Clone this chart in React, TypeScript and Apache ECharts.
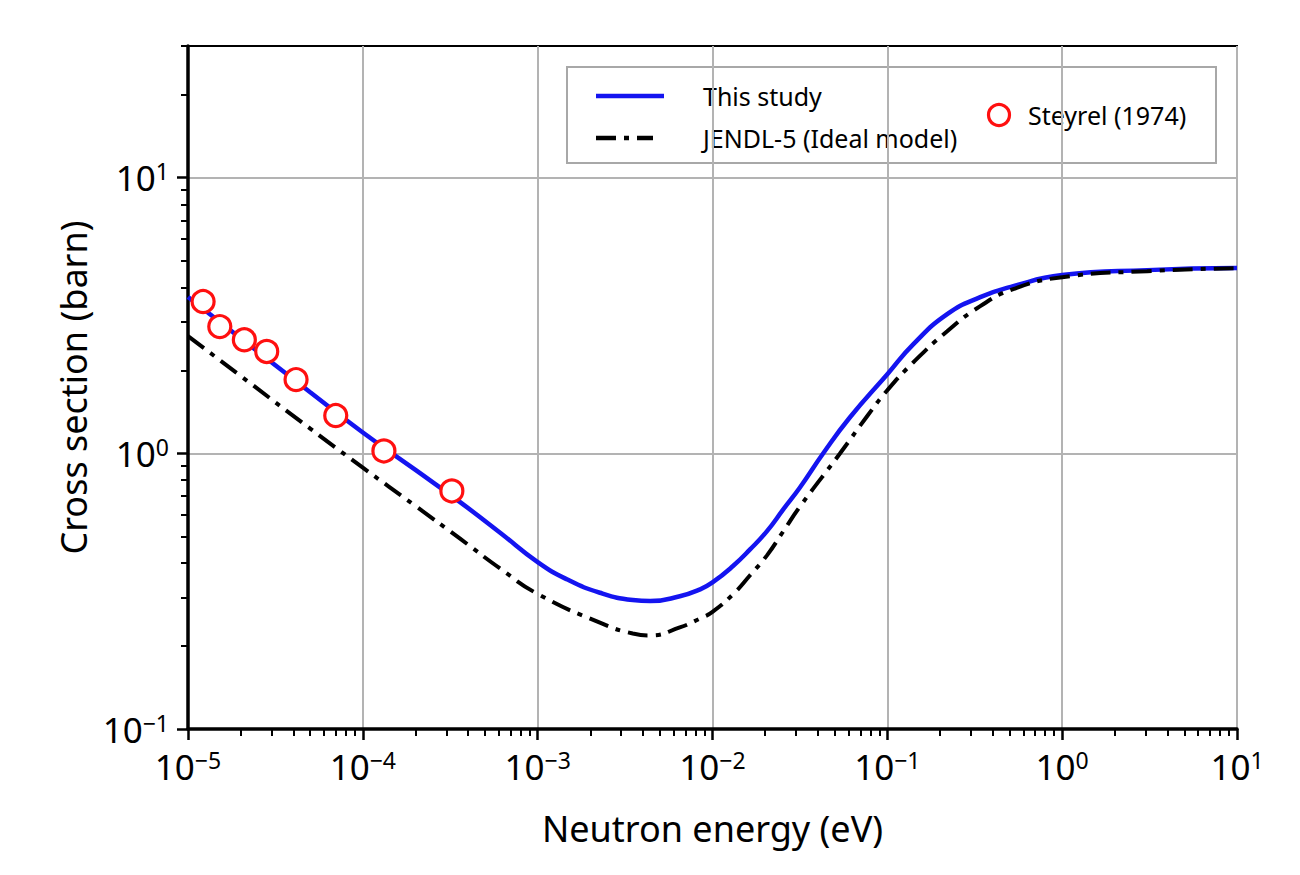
import React, { useEffect, useRef } from 'react';
import * as echarts from 'echarts';

const FONT = '"Noto Sans", "Open Sans", sans-serif';

// Axis ticks and labels
const xMajorTicks = [1e-5, 1e-4, 1e-3, 1e-2, 1e-1, 1, 10];
const xTickExponents = ['−5', '−4', '−3', '−2', '−1', '0', '1'];
const yMajorTicks = [0.1, 1, 10];
const yTickExponents = ['−1', '0', '1'];

// This study (blue solid)
const studyEnergy = [1e-5, 2e-5, 5e-5, 1e-4, 2e-4, 3.6e-4, 6.1e-4, 1e-3, 1.47e-3, 2.27e-3, 3.5e-3, 4.4e-3, 6.5e-3, 8.5e-3, 1e-2, 1.31e-2, 1.64e-2, 2.05e-2, 2.54e-2, 3.17e-2, 4.3e-2, 6.1e-2, 0.1, 0.141, 0.22, 0.34, 0.525, 1, 3.06, 10];
const studySigma = [3.69, 2.615, 1.665, 1.19, 0.87, 0.665, 0.515, 0.403, 0.349, 0.312, 0.2935, 0.291, 0.303, 0.321, 0.34, 0.39, 0.448, 0.522, 0.626, 0.753, 1.0, 1.348, 1.935, 2.487, 3.196, 3.684, 4.038, 4.428, 4.616, 4.694];

// JENDL-5 (Ideal model) (black dash-dot)
const jendlEnergy = [1e-5, 2e-5, 5e-5, 1e-4, 2e-4, 3.6e-4, 6.1e-4, 1e-3, 2.27e-3, 3.5e-3, 4.4e-3, 6.5e-3, 8.5e-3, 1e-2, 1.31e-2, 1.64e-2, 2.05e-2, 2.54e-2, 3.17e-2, 5.37e-2, 7.66e-2, 0.1, 0.141, 0.22, 0.34, 0.525, 1, 3.06, 10];
const jendlSigma = [2.659, 1.908, 1.229, 0.887, 0.644, 0.49, 0.382, 0.309, 0.243, 0.222, 0.2185, 0.2336, 0.2518, 0.266, 0.308, 0.361, 0.4264, 0.521, 0.642, 1.0, 1.362, 1.693, 2.139, 2.772, 3.417, 3.938, 4.353, 4.577, 4.694];

// Steyrel (1974) (red open circles)
const steyrelEnergy = [1.22e-5, 1.52e-5, 2.1e-5, 2.82e-5, 4.15e-5, 7.0e-5, 1.32e-4, 3.23e-4];
const steyrelSigma = [3.55, 2.88, 2.58, 2.34, 1.85, 1.37, 1.02, 0.73];

function minorTicks(lo: number, hi: number, maxVal: number) {
  const out: number[] = [];
  for (let e = lo; e < hi; e++) {
    for (let m = 2; m <= 9; m++) {
      const v = m * Math.pow(10, e);
      if (v <= maxVal * 1.0001) out.push(v);
    }
  }
  return out;
}

const xMinor = minorTicks(-5, 1, 10);
const yMinor = minorTicks(-1, 2, 30);

function powLabel(ticks: number[], exps: string[]) {
  return (v: number) => {
    const i = ticks.findIndex((t) => Math.abs(Math.log10(t) - Math.log10(v)) < 1e-6);
    return i < 0 ? '' : `{b|10}{s|${exps[i]}}`;
  };
}

const labelRich = {
  b: { fontSize: 35, fontFamily: FONT, color: '#000', lineHeight: 36 },
  s: { fontSize: 23, fontFamily: FONT, color: '#000', lineHeight: 23, verticalAlign: 'top' },
};

export default function App() {
  const ref = useRef<HTMLDivElement>(null);
  useEffect(() => {
    if (!ref.current) return;
    const chart = echarts.init(ref.current, null, { renderer: 'svg' });
    const option: any = {
      animation: false,
      backgroundColor: '#ffffff',
      grid: {
        left: 188,
        right: 63,
        top: 46,
        bottom: 146,
        show: true,
        borderColor: '#000',
        borderWidth: 2,
        backgroundColor: 'transparent',
      },
      xAxis: [
        {
          type: 'log',
          logBase: 10,
          min: 1e-5,
          max: 10,
          position: 'bottom',
          name: 'Neutron energy (eV)',
          nameLocation: 'middle',
          nameGap: 81,
          nameTextStyle: { fontSize: 36, fontFamily: FONT, color: '#000' },
          axisLine: { show: true, onZero: false, lineStyle: { color: '#000', width: 3.5 } },
          axisTick: { show: true, inside: false, length: 11, customValues: xMajorTicks, lineStyle: { color: '#000', width: 2.5 } },
          axisLabel: { show: true, margin: 19, customValues: xMajorTicks, formatter: powLabel(xMajorTicks, xTickExponents), rich: labelRich },
          splitLine: { show: true, lineStyle: { color: '#b3b3b3', width: 2 } },
          minorTick: { show: false },
          minorSplitLine: { show: false },
        },
        {
          type: 'log',
          logBase: 10,
          min: 1e-5,
          max: 10,
          position: 'bottom',
          offset: 0,
          axisLine: { show: false, onZero: false },
          axisTick: { show: true, inside: false, length: 7, customValues: xMinor, lineStyle: { color: '#000', width: 2 } },
          axisLabel: { show: false },
          splitLine: { show: false },
        },
      ],
      yAxis: [
        {
          type: 'log',
          logBase: 10,
          min: 0.1,
          max: 30,
          position: 'left',
          name: 'Cross section (barn)',
          nameLocation: 'middle',
          nameGap: 90,
          nameTextStyle: { fontSize: 36, fontFamily: FONT, color: '#000' },
          axisLine: { show: true, onZero: false, lineStyle: { color: '#000', width: 3.5 } },
          axisTick: { show: true, inside: false, length: 11, customValues: yMajorTicks, lineStyle: { color: '#000', width: 2.5 } },
          axisLabel: { show: true, margin: 19, customValues: yMajorTicks, formatter: powLabel(yMajorTicks, yTickExponents), rich: labelRich },
          splitLine: { show: true, lineStyle: { color: '#b3b3b3', width: 2 } },
          minorTick: { show: false },
          minorSplitLine: { show: false },
        },
        {
          type: 'log',
          logBase: 10,
          min: 0.1,
          max: 30,
          position: 'left',
          offset: 0,
          axisLine: { show: false, onZero: false },
          axisTick: { show: true, inside: false, length: 7, customValues: yMinor, lineStyle: { color: '#000', width: 2 } },
          axisLabel: { show: false },
          splitLine: { show: false },
        },
      ],
      series: [
        {
          name: 'This study',
          type: 'line',
          xAxisIndex: 0,
          yAxisIndex: 0,
          data: studyEnergy.map((e, i) => [e, studySigma[i]]),
          showSymbol: false,
          symbol: 'none',
          smooth: 0.5,
          lineStyle: { color: '#1414f0', width: 4.5 },
          z: 2,
        },
        {
          name: 'JENDL-5 (Ideal model)',
          type: 'line',
          xAxisIndex: 0,
          yAxisIndex: 0,
          data: jendlEnergy.map((e, i) => [e, jendlSigma[i]]),
          showSymbol: false,
          symbol: 'none',
          smooth: 0.5,
          lineStyle: { color: '#000', width: 4, type: [20, 8, 5, 8] },
          z: 3,
        },
        {
          name: 'Steyrel (1974)',
          type: 'scatter',
          xAxisIndex: 0,
          yAxisIndex: 0,
          data: steyrelEnergy.map((e, i) => [e, steyrelSigma[i]]),
          symbol: 'circle',
          symbolSize: 22,
          itemStyle: { color: '#ffffff', borderColor: '#ff1010', borderWidth: 3.2, opacity: 1 },
          z: 4,
        },
      ],
      graphic: [
        {
          type: 'group',
          z: 100,
          children: [
            {
              type: 'rect',
              shape: { x: 567, y: 67, width: 649, height: 96 },
              style: { fill: '#ffffff', stroke: '#a8a8a8', lineWidth: 2 },
            },
            {
              type: 'line',
              shape: { x1: 596, y1: 96, x2: 664, y2: 96 },
              style: { stroke: '#1414f0', lineWidth: 4.5 },
            },
            {
              type: 'line',
              shape: { x1: 596, y1: 138, x2: 653, y2: 138 },
              style: { stroke: '#000', lineWidth: 4.5, lineDash: [20, 8, 5, 8] },
            },
            {
              type: 'text',
              x: 703,
              y: 96,
              style: { text: 'This study', fontSize: 25, fontFamily: FONT, fill: '#000', verticalAlign: 'middle', align: 'left' },
            },
            {
              type: 'text',
              x: 703,
              y: 138,
              style: { text: 'JENDL-5 (Ideal model)', fontSize: 25, fontFamily: FONT, fill: '#000', verticalAlign: 'middle', align: 'left' },
            },
            {
              type: 'circle',
              shape: { cx: 999, cy: 115, r: 10.5 },
              style: { fill: '#ffffff', stroke: '#ff1010', lineWidth: 3.2 },
            },
            {
              type: 'text',
              x: 1028,
              y: 115,
              style: { text: 'Steyrel (1974)', fontSize: 25, fontFamily: FONT, fill: '#000', verticalAlign: 'middle', align: 'left' },
            },
          ],
        },
      ],
    };
    chart.setOption(option);
    return () => chart.dispose();
  }, []);
  return (
    <div
      ref={ref}
      style={{ position: 'absolute', left: 0, top: 0, width: 1300, height: 875, background: '#fff' }}
    />
  );
}
